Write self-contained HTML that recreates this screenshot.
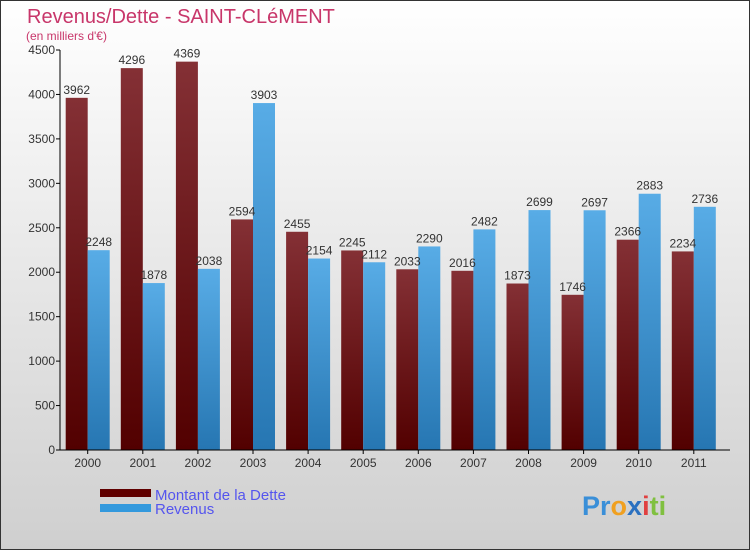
<!DOCTYPE html>
<html><head><meta charset="utf-8"><style>
body{margin:0}
svg{display:block;font-family:"Liberation Sans","DejaVu Sans",sans-serif}
</style></head><body>
<svg width="750" height="550" viewBox="0 0 750 550">
<defs>
<linearGradient id="bg" x1="0" y1="0" x2="0" y2="1"><stop offset="0" stop-color="#ffffff"/><stop offset="1" stop-color="#cfcfcf"/></linearGradient>
<linearGradient id="gd" x1="0" y1="0" x2="0" y2="1"><stop offset="0" stop-color="#843035"/><stop offset="1" stop-color="#520000"/></linearGradient>
<linearGradient id="gr" x1="0" y1="0" x2="0" y2="1"><stop offset="0" stop-color="#58ace6"/><stop offset="1" stop-color="#2676b2"/></linearGradient>
</defs>
<rect x="0.5" y="0.5" width="749" height="549" fill="url(#bg)" stroke="#333"/>
<text x="27" y="23" font-size="20" fill="#c8366a">Revenus/Dette - SAINT-CLéMENT</text>
<text x="26" y="40" font-size="12" fill="#c8366a">(en milliers d'€)</text>
<g id="plot"></g>
<rect x="100" y="489" width="51" height="8" fill="#600000"/>
<rect x="100" y="504" width="51" height="8" fill="#3399dd"/>
<text x="155" y="500" font-size="15" fill="#5555ee">Montant de la Dette</text>
<text x="155" y="514" font-size="15" fill="#5555ee">Revenus</text>
<text x="582" y="515" font-size="27" font-weight="bold"><tspan fill="#3a8fd8">Pr</tspan><tspan fill="#f0a020">o</tspan><tspan fill="#2a70c0">x</tspan><tspan fill="#e04040">i</tspan><tspan fill="#80c040">ti</tspan></text>
</svg>
<script>
const years=["2000","2001","2002","2003","2004","2005","2006","2007","2008","2009","2010","2011"];
const dette=[3962,4296,4369,2594,2455,2245,2033,2016,1873,1746,2366,2234];
const revenus=[2248,1878,2038,3903,2154,2112,2290,2482,2699,2697,2883,2736];
const yTicks=[0,500,1000,1500,2000,2500,3000,3500,4000,4500];
const NS="http://www.w3.org/2000/svg";
const g=document.getElementById('plot');
const y=v=>450-v*400/4500;
const xc=i=>87.7+i*55.1;
function mk(t,a,txt){const e=document.createElementNS(NS,t);for(const k in a)e.setAttribute(k,a[k]);if(txt!==undefined)e.textContent=txt;g.appendChild(e);return e;}
yTicks.forEach(v=>{
 const l=mk('line',{x1:56,x2:60,y1:y(v),y2:y(v),stroke:'#000'});
 
 
 const t=mk('text',{x:55,y:y(v)+4,'font-size':12,'text-anchor':'end',fill:'#333'},v);
 
 
});
years.forEach((yr,i)=>{
 const c=xc(i);
 const b1=mk('rect',{x:c-22,y:y(dette[i]),width:22,height:450-y(dette[i]),fill:'url(#gd)'});
 
 
 const b2=mk('rect',{x:c,y:y(revenus[i]),width:22,height:450-y(revenus[i]),fill:'url(#gr)'});
 
 
 const t1=mk('text',{x:c-11,y:y(dette[i])-4,'font-size':12,'text-anchor':'middle',fill:'#333'},dette[i]);
 
 
 const t2=mk('text',{x:c+11,y:y(revenus[i])-4,'font-size':12,'text-anchor':'middle',fill:'#333'},revenus[i]);
 
 
 const tk=mk('line',{x1:c,x2:c,y1:450,y2:454,stroke:'#000'});
 
 
 const xl=mk('text',{x:c,y:467,'font-size':12,'text-anchor':'middle',fill:'#333'},yr);
 
 
});
const ya=mk('line',{x1:60,x2:60,y1:50,y2:450,stroke:'#000'});


const xa=mk('line',{x1:60,x2:730,y1:450,y2:450,stroke:'#000'});


</script>
</body></html>
